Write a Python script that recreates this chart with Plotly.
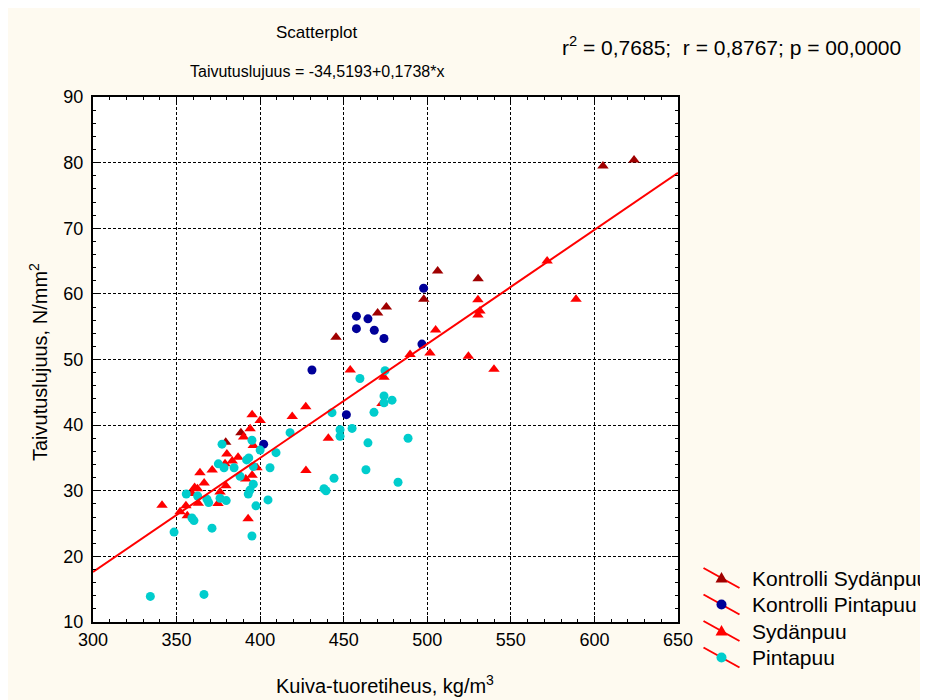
import plotly.graph_objects as go

# ---------------- data ----------------
ks_x = [605.1, 623.7, 506.2, 530.4, 497.9, 445.4, 470.3, 475.5, 388.5, 379.4]
ks_y = [79.5, 80.4, 63.5, 62.3, 59.2, 53.4, 57.1, 58.0, 38.85, 37.4]

kp_x = [457.6, 464.5, 457.6, 468.3, 474.1, 497.8, 496.8, 431.0, 451.6, 402.1]
kp_y = [56.6, 56.2, 54.7, 54.45, 53.2, 60.85, 52.35, 48.4, 41.6, 37.1]

s_x = [571.7, 589.0, 530.3, 531.5, 530.3, 505.0, 501.6, 524.6, 539.9, 489.7,
       453.9, 474.1, 472.9, 427.3, 419.2, 440.8, 427.4,
       341.3, 352.1, 356.4, 355.6, 360.8, 359.2, 362.5, 363.0, 364.0, 366.5,
       371.3, 374.8, 376.0, 379.5, 380.1, 379.0, 383.3, 386.8, 391.4, 392.8,
       395.2, 398.1, 395.2, 400.0, 394.0, 390.1, 395.9]
s_y = [65.0, 59.2, 59.1, 57.4, 56.8, 54.5, 51.0, 50.5, 48.5, 50.75,
       48.4, 47.3, 43.3, 42.8, 41.3, 38.0, 33.1,
       27.8, 26.8, 26.2, 27.7, 30.5, 29.6, 30.3, 28.1, 32.75, 31.2,
       33.15, 28.05, 29.8, 30.75, 35.6, 34.1, 34.55, 35.1, 31.8, 25.75,
       32.35, 33.5, 41.6, 40.7, 39.45, 38.2, 36.9]

p_x = [334.3, 366.4, 348.5, 371.2, 395.1, 359.2, 360.4, 355.8, 362.6, 368.2,
       369.2, 376.0, 379.7, 377.2, 375.0, 378.4, 384.4, 388.0, 391.9, 393.2,
       395.9, 395.1, 400.0, 409.5, 417.9, 405.9, 395.9, 393.9, 392.9, 397.5,
       404.7, 443.0, 447.8, 447.8, 455.0, 464.5, 488.5, 468.1, 474.1, 474.1,
       478.9, 459.7, 474.7, 444.2, 438.2, 439.4, 463.3, 482.5]
p_y = [13.9, 14.2, 23.7, 24.3, 23.1, 25.85, 25.45, 29.5, 29.2, 28.7,
       28.2, 28.85, 28.5, 37.1, 34.1, 33.5, 33.5, 32.2, 34.7, 35.0,
       33.7, 37.7, 36.2, 35.8, 38.85, 33.5, 31.0, 30.1, 29.5, 27.7,
       28.6, 41.9, 39.3, 38.3, 39.5, 37.3, 38.0, 41.95, 44.45, 43.4,
       43.8, 47.1, 48.3, 31.9, 30.3, 30.0, 33.2, 31.3]

intercept = -34.5193
slope = 0.1738
x_range = [300, 650]
y_range = [10, 90]

legend_names = ["Kontrolli Sydänpuu", "Kontrolli Pintapuu", "Sydänpuu", "Pintapuu"]
colors = ["#a00000", "#000099", "#ff0000", "#00cdcd"]
symbols = ["triangle-up", "circle", "triangle-up", "circle"]

title_text = "Scatterplot"
eq_text = "Taivutuslujuus = -34,5193+0,1738*x"
stats_text = "r<sup>2</sup> = 0,7685;  r = 0,8767; p = 00,0000"
x_title = "Kuiva-tuoretiheus, kg/m<sup>3</sup>"
y_title = "Taivutuslujuus, N/mm<sup>2</sup>"

# ---------------- layout geometry (screen pixels, page has 8px body margin) ----------------
OFF = 8
W, H = 928 - OFF, 700 - OFF
L, R, T, B = 93, 678, 97, 622
FONT = "Liberation Sans, Arial, sans-serif"


def px_x(p):
    return (p - L) / (R - L)


def px_y(p):
    return (B - p) / (B - T)


fig = go.Figure()
groups = [(ks_x, ks_y), (kp_x, kp_y), (s_x, s_y), (p_x, p_y)]
sizes = [10, 9, 10, 9]
for (gx, gy), name, c, sym, sz in zip(groups, legend_names, colors, symbols, sizes):
    fig.add_trace(go.Scatter(
        x=gx, y=gy, mode="markers", name=name, showlegend=False,
        marker=dict(color=c, symbol=sym, size=sz, line=dict(width=0)),
    ))

fig.add_trace(go.Scatter(
    x=x_range, y=[intercept + slope * v for v in x_range],
    mode="lines", line=dict(color="#ff0000", width=2), showlegend=False,
    hoverinfo="skip",
))

axis_common = dict(
    showline=True, linecolor="black", linewidth=2, mirror="allticks",
    ticks="inside", ticklen=6, tickcolor="black", tickwidth=1,
    showgrid=True, gridcolor="black", gridwidth=1, griddash="3px,2px",
    zeroline=False, tickfont=dict(family=FONT, size=18, color="black"),
)

fig.update_xaxes(range=x_range, dtick=50, tick0=300,
                 minor=dict(dtick=10, ticks="inside", ticklen=3, tickcolor="black", showgrid=False),
                 **axis_common)
fig.update_yaxes(range=y_range, dtick=10, tick0=10, ticklabelstandoff=4,
                 minor=dict(dtick=2, ticks="inside", ticklen=3, tickcolor="black", showgrid=False),
                 **axis_common)

annotations = [
    dict(text=title_text, x=px_x(317), y=px_y(33), xanchor="center", yanchor="middle",
         font=dict(family=FONT, size=17, color="black")),
    dict(text=eq_text, x=px_x(317), y=px_y(72), xanchor="center", yanchor="middle",
         font=dict(family=FONT, size=16, color="black")),
    dict(text=stats_text, x=px_x(560), y=px_y(46), xanchor="left", yanchor="middle",
         font=dict(family=FONT, size=21, color="black")),
    dict(text=x_title, x=px_x(385), y=px_y(684), xanchor="center", yanchor="middle",
         font=dict(family=FONT, size=20, color="black")),
    dict(text=y_title, x=px_x(38), y=px_y(362), xanchor="center", yanchor="middle",
         textangle=-90, font=dict(family=FONT, size=20, color="black")),
]

shapes = []
row_y = [578, 604.5, 631, 657.5]
mx = 721.5
for i, (name, c, sym) in enumerate(zip(legend_names, colors, symbols)):
    ya = px_y(row_y[i])
    xa = px_x(mx)
    shapes.append(dict(type="line", xref="paper", yref="paper",
                       xsizemode="pixel", ysizemode="pixel", xanchor=xa, yanchor=ya,
                       x0=-18, x1=18, y0=10, y1=-10,
                       line=dict(color="#ff0000", width=2)))
    if sym == "circle":
        shapes.append(dict(type="circle", xref="paper", yref="paper",
                           xsizemode="pixel", ysizemode="pixel", xanchor=xa, yanchor=ya,
                           x0=-5, x1=5, y0=-5, y1=5,
                           fillcolor=c, line=dict(width=0)))
    else:
        shapes.append(dict(type="path", xref="paper", yref="paper",
                           xsizemode="pixel", ysizemode="pixel", xanchor=xa, yanchor=ya,
                           path="M -6,-4.5 L 6,-4.5 L 0,6 Z",
                           fillcolor=c, line=dict(width=0)))
    annotations.append(dict(text=name, x=px_x(750), y=ya, xanchor="left", yanchor="middle",
                            font=dict(family=FONT, size=21, color="black")))

for a in annotations:
    a.update(xref="paper", yref="paper", showarrow=False)

fig.update_layout(
    width=W, height=H,
    margin=dict(l=L - OFF, r=W - (R - OFF), t=T - OFF, b=H - (B - OFF), pad=0),
    paper_bgcolor="#fefaf0", plot_bgcolor="white",
    showlegend=False,
    annotations=annotations, shapes=shapes,
    font=dict(family=FONT, color="black"),
)

fig.write_html("out.html")
